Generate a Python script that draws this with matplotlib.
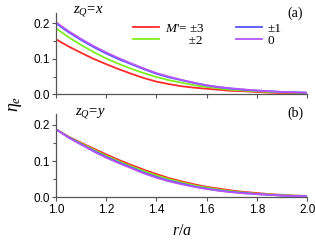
import numpy as np
import matplotlib
matplotlib.use("Agg")
import matplotlib.pyplot as plt
from matplotlib.ticker import MultipleLocator

plt.rcParams['font.family'] = ['Liberation Sans', 'DejaVu Sans']
plt.rcParams['mathtext.fontset'] = 'custom'
plt.rcParams['mathtext.rm'] = 'Liberation Serif'
plt.rcParams['mathtext.it'] = 'Liberation Serif:italic'

# r/a grid
r = [1.00, 1.05, 1.10, 1.15, 1.20, 1.25, 1.30, 1.35, 1.40, 1.45, 1.50,
     1.55, 1.60, 1.65, 1.70, 1.75, 1.80, 1.85, 1.90, 1.95, 2.00]

# (a) z_Q = x
a_m3 = [0.155, 0.135, 0.117, 0.100, 0.085, 0.071, 0.058, 0.046, 0.036, 0.029, 0.023,
        0.019, 0.016, 0.013, 0.010, 0.009, 0.007, 0.005, 0.004, 0.003, 0.002]
a_m2 = [0.186, 0.161, 0.139, 0.119, 0.101, 0.086, 0.072, 0.060, 0.049, 0.040, 0.033,
        0.026, 0.021, 0.017, 0.013, 0.011, 0.009, 0.007, 0.006, 0.005, 0.004]
a_m1 = [0.200, 0.175, 0.153, 0.133, 0.115, 0.099, 0.085, 0.071, 0.058, 0.048, 0.040,
        0.032, 0.025, 0.020, 0.016, 0.013, 0.011, 0.009, 0.007, 0.006, 0.005]
a_m0 = [0.203, 0.178, 0.156, 0.136, 0.118, 0.102, 0.087, 0.073, 0.060, 0.050, 0.041,
        0.033, 0.026, 0.021, 0.017, 0.014, 0.011, 0.009, 0.007, 0.006, 0.005]

# (b) z_Q = y
b_m3 = [0.187, 0.167, 0.150, 0.134, 0.118, 0.103, 0.089, 0.076, 0.064, 0.053, 0.044,
        0.036, 0.029, 0.024, 0.019, 0.015, 0.012, 0.009, 0.007, 0.005, 0.004]
b_m2 = [0.187, 0.166, 0.148, 0.131, 0.114, 0.099, 0.085, 0.072, 0.060, 0.050, 0.041,
        0.033, 0.027, 0.021, 0.017, 0.013, 0.010, 0.008, 0.006, 0.005, 0.003]
b_m1 = [0.187, 0.165, 0.146, 0.128, 0.111, 0.096, 0.082, 0.068, 0.056, 0.046, 0.038,
        0.030, 0.024, 0.019, 0.015, 0.012, 0.009, 0.007, 0.005, 0.004, 0.003]
b_m0 = [0.187, 0.164, 0.145, 0.126, 0.109, 0.094, 0.080, 0.066, 0.054, 0.044, 0.036,
        0.029, 0.023, 0.018, 0.014, 0.011, 0.009, 0.007, 0.005, 0.004, 0.003]

labels = [r"$M$'= ±3", "       ±2", "±1", "0"]
colors = ['#ff2a2a', '#80ee20', '#5555ff', '#b455ff']

fig = plt.figure(figsize=(3.15, 2.44), dpi=100)
ax1 = fig.add_axes([0.178, 0.613, 0.797, 0.332])
ax2 = fig.add_axes([0.178, 0.191, 0.797, 0.340])

for ax, series in ((ax1, [a_m3, a_m2, a_m1, a_m0]), (ax2, [b_m3, b_m2, b_m1, b_m0])):
    for y, c, lab in zip(series, colors, labels):
        ax.plot(r, y, color=c, lw=1.3, label=lab)
    ax.set_xlim(1.0, 2.0)
    ax.set_ylim(0, 0.228)
    ax.xaxis.set_major_locator(MultipleLocator(0.2))
    ax.yaxis.set_major_locator(MultipleLocator(0.1))
    ax.yaxis.set_minor_locator(MultipleLocator(0.05))
    for s in ('top', 'right'):
        ax.spines[s].set_visible(False)
    for s in ('left', 'bottom'):
        ax.spines[s].set_color('#555555')
        ax.spines[s].set_linewidth(0.9)
    ax.tick_params(which='both', direction='out', color='#555555', width=0.8,
                   labelsize=8.5, pad=1.5)
    ax.tick_params(which='major', length=3)
    ax.tick_params(which='minor', length=2)
    ax.yaxis.set_major_formatter(matplotlib.ticker.FormatStrFormatter('%.1f'))

ax1.tick_params(labelbottom=False)

ax1.legend(ncol=2, loc='upper left', bbox_to_anchor=(0.28, 0.97), frameon=False,
           prop={'family': 'Liberation Serif', 'size': 9.5},
           handlelength=2.0, handletextpad=0.4, columnspacing=2.4,
           labelspacing=0.0, borderpad=0)

ax1.text(0.068, 1.03, r"$z_Q\!=\!x$", transform=ax1.transAxes, fontsize=10.5,
         va='center', ha='left', clip_on=False)
ax2.text(0.075, 1.02, r"$z_Q\!=\!y$", transform=ax2.transAxes, fontsize=10.5,
         va='center', ha='left', clip_on=False)
ax1.text(0.985, 1.0, "(a)", transform=ax1.transAxes, fontsize=10,
         ha='right', va='center', family='Liberation Serif')
ax2.text(0.985, 1.02, "(b)", transform=ax2.transAxes, fontsize=10,
         ha='right', va='center', family='Liberation Serif')

fig.text(0.05, 1 - 104 / 244, r"$\eta_e$", rotation=90, fontsize=13,
         ha='center', va='center')
ax2.set_xlabel(r"$r/a$", fontsize=11.5, labelpad=5)

fig.savefig("out.png", dpi=100)
